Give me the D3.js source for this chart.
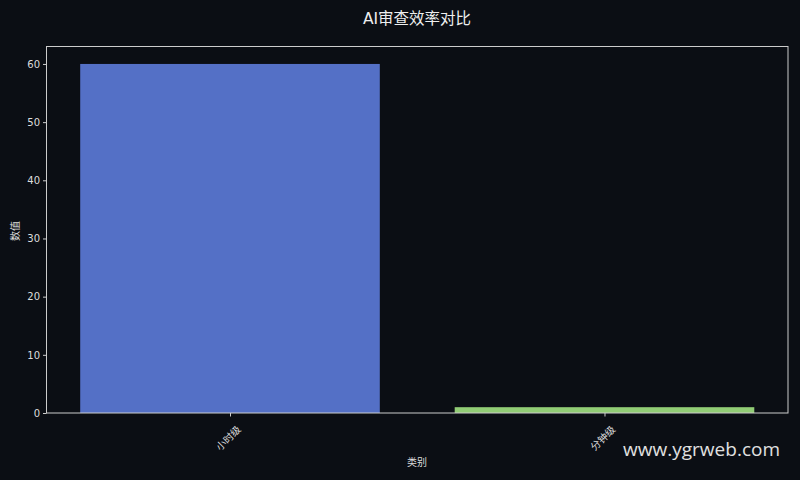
<!DOCTYPE html>
<html><head><meta charset="utf-8">
<script src="https://cdn.jsdelivr.net/npm/d3@7"></script>
<style>
html,body{margin:0;padding:0;background:#0b0e14;}
svg{display:block;}
</style></head>
<body>
<svg id="chart" width="800" height="480"></svg>
<script>
const categories = ["小时级", "分钟级"];
const values = [60, 1];
const colors = ["#5470c6", "#91cc75"];
const yTicks = [0, 10, 20, 30, 40, 50, 60];
const title = "AI审查效率对比";
const xLabel = "类别";
const yLabel = "数值";
const watermark = "www.ygrweb.com";

const W = 800, H = 480;
const m = {left: 46.5, right: 788, top: 46.5, bottom: 413};
const font = "'DejaVu Sans','Noto Sans CJK SC',sans-serif";
const svg = d3.select("#chart");
svg.append("rect").attr("width", W).attr("height", H).attr("fill", "#0b0e14");

const x = d3.scaleLinear().domain([-0.4 - 0.09, categories.length - 1 + 0.4 + 0.09]).range([m.left, m.right]);
const y = d3.scaleLinear().domain([0, 63]).range([m.bottom, m.top]);

svg.selectAll("rect.bar").data(values).enter().append("rect")
  .attr("class", "bar")
  .attr("x", (d, i) => x(i - 0.4))
  .attr("width", (d, i) => x(i + 0.4) - x(i - 0.4))
  .attr("y", d => y(d))
  .attr("height", d => y(0) - y(d))
  .attr("fill", (d, i) => colors[i]);

const yAxis = d3.axisLeft(y).tickValues(yTicks).tickSize(3.5).tickPadding(3);
const gy = svg.append("g").attr("transform", `translate(${m.left},0)`).call(yAxis);
gy.select(".domain").remove();
gy.selectAll("line").attr("stroke", "#cccccc");
gy.selectAll("text").attr("fill", "#dddddd").style("font-family", font).style("font-size", "10px");

const xAxis = d3.axisBottom(x).tickValues(categories.map((c, i) => i)).tickFormat(i => categories[i]).tickSize(3.5).tickPadding(3);
const gx = svg.append("g").attr("transform", `translate(0,${m.bottom})`).call(xAxis);
gx.select(".domain").remove();
gx.selectAll("line").attr("stroke", "#cccccc");
gx.selectAll("text")
  .attr("fill", "#dddddd").style("font-family", font).style("font-size", "10px")
  .attr("text-anchor", "end").attr("dy", "0.35em")
  .attr("transform", "translate(4,10) rotate(-45)");

svg.append("rect").attr("x", m.left).attr("y", m.top)
  .attr("width", m.right - m.left).attr("height", m.bottom - m.top)
  .attr("fill", "none").attr("stroke", "#cccccc").attr("stroke-width", 1);

svg.append("text").attr("x", 417).attr("y", 23.5).attr("text-anchor", "middle")
  .attr("fill", "#eeeeee").style("font-family", font).style("font-size", "15.5px").text(title);
svg.append("text").attr("x", 417).attr("y", 466).attr("text-anchor", "middle")
  .attr("fill", "#dddddd").style("font-family", font).style("font-size", "10px").text(xLabel);
svg.append("text").attr("transform", "translate(19,231) rotate(-90)").attr("text-anchor", "middle")
  .attr("fill", "#dddddd").style("font-family", font).style("font-size", "10px").text(yLabel);

svg.append("text").attr("x", 780).attr("y", 456).attr("text-anchor", "end")
  .attr("fill", "#e0e0e0").style("font-family", "'Open Sans','Noto Sans',sans-serif").style("font-size", "19px").text(watermark);
</script>
</body></html>
